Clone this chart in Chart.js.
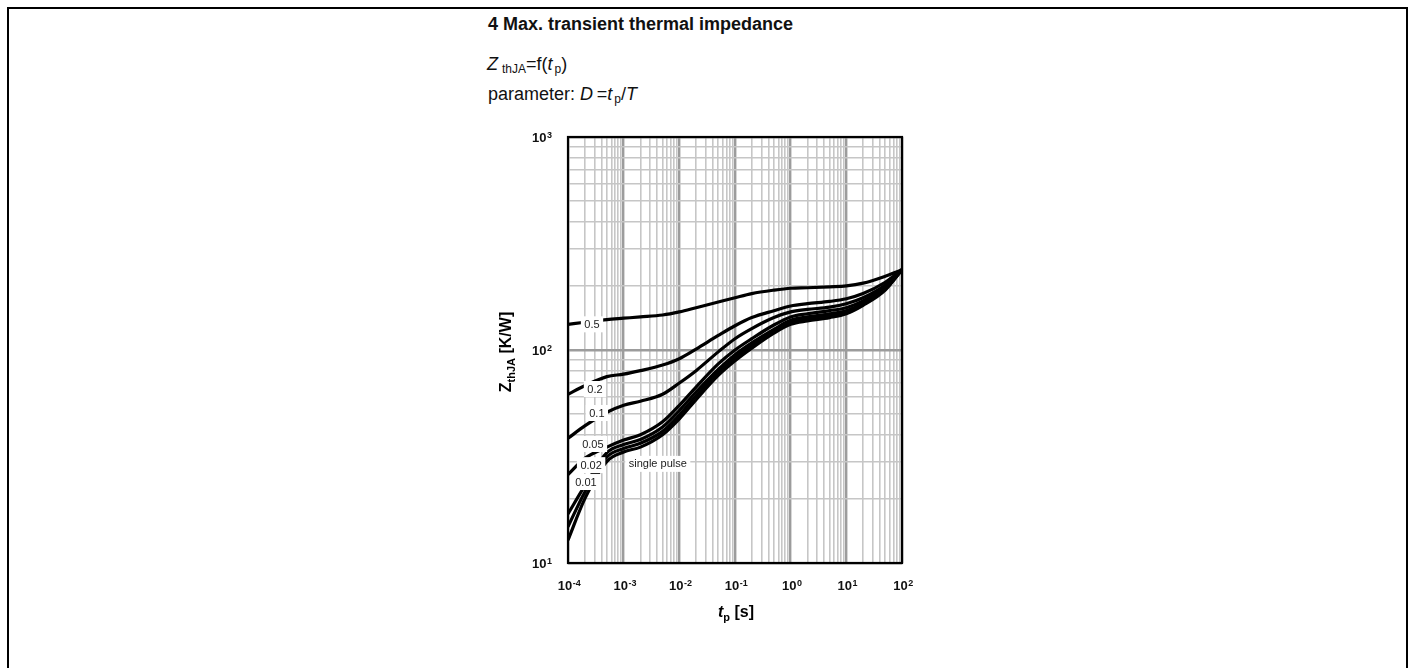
<!DOCTYPE html>
<html>
<head>
<meta charset="utf-8">
<script src="https://cdn.jsdelivr.net/npm/chart.js@4.4.1/dist/chart.umd.min.js"></script>
<style>
    html, body { margin: 0; padding: 0; background: #fff; overflow: hidden; }
    body { width: 1413px; height: 668px; position: relative; font-family: Arial, "Liberation Sans", sans-serif; color: #111; }
    .frame { position: absolute; left: 7px; top: 7px; width: 1397px; height: 720px; border: 2px solid #000; }
    .txt { position: absolute; font-size: 18px; line-height: 18px; white-space: nowrap; }
    .txt sub { font-size: 12px; vertical-align: -3px; line-height: 0; }
    .chart-box { position: absolute; left: 470px; top: 125px; width: 450px; height: 520px; }
</style>
</head>
<body>
<div class="frame"></div>
<div class="txt" style="left:488px; top:15px; font-weight:bold;">4 Max. transient thermal impedance</div>
<div class="txt" style="left:487px; top:55px;"><i>Z</i><sub style="margin-left:4px">thJA</sub>=f(<i>t</i><sub style="margin-left:2px">p</sub>)</div>
<div class="txt" style="left:488px; top:85px;">parameter: <i>D</i>&thinsp;=<i>t</i><sub style="margin-left:2px">p</sub>/<i>T</i></div>
<div class="chart-box"><canvas id="zth" width="450" height="520"></canvas></div>
<script>
// pulse width tp [s]
const TP = [1e-4, 2e-4, 5e-4, 1e-3, 2e-3, 5e-3, 1e-2, 2e-2, 5e-2, 0.1, 0.2, 0.5, 1, 2, 5, 10, 20, 50, 100];

// ZthJA [K/W] for each duty cycle D
const Z_D050 = [132, 135, 139, 141, 143, 146, 151, 158, 168, 176, 184, 191, 195, 196, 198, 200, 206, 222, 238];
const Z_D020 = [62, 68, 75, 77, 80, 85, 91, 101, 117, 130, 142, 153, 161, 165, 169, 174, 184, 208, 238];
const Z_D010 = [38.5, 44, 51, 55, 57.5, 62, 70, 80, 98, 113, 126, 142, 151, 155, 159, 165, 176, 202, 238];
const Z_D005 = [26, 31, 35, 37.8, 40, 46, 55, 67, 86, 100, 113, 131, 143, 148, 153, 158, 170, 198, 238];
const Z_D002 = [17, 23, 33, 36, 38, 43.5, 52, 63.5, 81, 95, 108, 125, 138, 143, 148, 153, 166, 195, 238];
const Z_D001 = [14.8, 21.5, 31.5, 34.5, 36.5, 41.5, 49.5, 61, 78, 92, 105, 122, 135, 140, 145, 150, 164, 193, 238];
const Z_SINGLE = [12.8, 20, 30, 33.2, 35, 40, 47.5, 58.5, 76, 89, 102, 120, 132, 137, 142, 148, 162, 191, 238];

const SERIES = [Z_D050, Z_D020, Z_D010, Z_D005, Z_D002, Z_D001, Z_SINGLE];

// curve labels and where they sit (tp, Z)
const LABEL_TEXT = ["0.5", "0.2", "0.1", "0.05", "0.02", "0.01", "single pulse"];
const LABEL_TP = [2.7e-4, 3.05e-4, 3.3e-4, 2.8e-4, 2.6e-4, 2.1e-4, 4.1e-3];
const LABEL_Z = [132, 65.6, 50.6, 36.2, 28.8, 24.0, 29.2];

// axes: decade ticks, labelled 10^n
const X_DECADES = [1e-4, 1e-3, 1e-2, 1e-1, 1, 10, 100];
const X_TICK_EXP = ["-4", "-3", "-2", "-1", "0", "1", "2"];
const Y_DECADES = [10, 100, 1000];
const Y_TICK_EXP = ["1", "2", "3"];

const FONT = "Arial, 'Liberation Sans', sans-serif";

function isDecade(v) {
    const l = Math.log10(v);
    return Math.abs(l - Math.round(l)) < 1e-6;
}

// 1..9 gridlines inside each decade
function gridValues(decades) {
    const vals = [];
    for (let i = 0; i < decades.length - 1; i++) {
        for (let m = 1; m <= 9; m++) vals.push(m * decades[i]);
    }
    vals.push(decades[decades.length - 1]);
    return vals;
}

const curveLabels = {
    id: "curveLabels",
    afterDatasetsDraw(chart) {
        const { ctx, scales: { x, y }, chartArea: a } = chart;
        ctx.save();
        ctx.font = "11px " + FONT;
        ctx.textAlign = "center";
        ctx.textBaseline = "middle";
        LABEL_TEXT.forEach((txt, i) => {
            const px = x.getPixelForValue(LABEL_TP[i]);
            const py = y.getPixelForValue(LABEL_Z[i]);
            const w = ctx.measureText(txt).width + 7;
            ctx.fillStyle = "#fff";
            ctx.fillRect(px - w / 2, py - 8, w, 16);
            ctx.fillStyle = "#1a1a1a";
            ctx.fillText(txt, px, py + 0.5);
        });
        // black frame round the plot
        ctx.strokeStyle = "#000";
        ctx.lineWidth = 2.2;
        ctx.strokeRect(a.left, a.top, a.right - a.left, a.bottom - a.top);
        ctx.restore();
    },
};

// "10" with a raised exponent at every decade
const tickLabels = {
    id: "tickLabels",
    afterDraw(chart) {
        const { ctx, scales: { x, y }, chartArea: a } = chart;
        const base = "bold 13px " + FONT;
        const sup = "bold 9px " + FONT;
        ctx.save();
        ctx.fillStyle = "#111";
        ctx.textBaseline = "alphabetic";
        ctx.textAlign = "left";
        X_DECADES.forEach((v, i) => {
            ctx.font = base;
            const wb = ctx.measureText("10").width;
            ctx.font = sup;
            const ws = ctx.measureText(X_TICK_EXP[i]).width;
            const left = x.getPixelForValue(v) - (wb + ws) / 2 + 1;
            const by = a.bottom + 27;
            ctx.font = base;
            ctx.fillText("10", left, by);
            ctx.font = sup;
            ctx.fillText(X_TICK_EXP[i], left + wb + 0.5, by - 4.5);
        });
        Y_DECADES.forEach((v, i) => {
            ctx.font = sup;
            const ws = ctx.measureText(Y_TICK_EXP[i]).width;
            ctx.font = base;
            const wb = ctx.measureText("10").width;
            const right = a.left - 16;
            const by = y.getPixelForValue(v) + 5;
            ctx.fillText("10", right - ws - 0.5 - wb, by);
            ctx.font = sup;
            ctx.fillText(Y_TICK_EXP[i], right - ws, by - 4.5);
        });
        ctx.restore();
    },
};

// axis titles with subscripts
const axisTitles = {
    id: "axisTitles",
    afterDraw(chart) {
        const { ctx, chartArea: a } = chart;
        ctx.save();
        ctx.fillStyle = "#000";
        ctx.textBaseline = "alphabetic";
        ctx.textAlign = "left";

        // x title: tp [s]
        const parts = [
            { t: "t", f: "italic bold 16px " + FONT, dy: 0 },
            { t: "p", f: "bold 11px " + FONT, dy: 4 },
            { t: " [s]", f: "bold 16px " + FONT, dy: 0 },
        ];
        let total = 0;
        parts.forEach(p => { ctx.font = p.f; p.w = ctx.measureText(p.t).width; total += p.w; });
        let cx = (a.left + a.right) / 2 + 1 - total / 2;
        const by = a.bottom + 54;
        parts.forEach(p => { ctx.font = p.f; ctx.fillText(p.t, cx, by + p.dy); cx += p.w; });

        // y title: ZthJA [K/W], rotated
        const yparts = [
            { t: "Z", f: "bold 16px " + FONT, dy: 0 },
            { t: "thJA", f: "bold 11px " + FONT, dy: 4 },
            { t: " [K/W]", f: "bold 16px " + FONT, dy: 0 },
        ];
        let ytotal = 0;
        yparts.forEach(p => { ctx.font = p.f; p.w = ctx.measureText(p.t).width; ytotal += p.w; });
        ctx.translate(a.left - 57, (a.top + a.bottom) / 2 + 2);
        ctx.rotate(-Math.PI / 2);
        let yx = -ytotal / 2;
        yparts.forEach(p => { ctx.font = p.f; ctx.fillText(p.t, yx, p.dy); yx += p.w; });
        ctx.restore();
    },
};

const gridColor = c => (c.tick && isDecade(c.tick.value) ? "#9c9c9c" : "#c6c6c6");
const gridWidth = c => (c.tick && isDecade(c.tick.value) ? 2.4 : 1.6);

// keep the plot box where it is: no room for label overhang
function fixBox(size) {
    return s => {
        if (s.isHorizontal()) s.height = size; else s.width = size;
        s.paddingLeft = 0;
        s.paddingRight = 0;
        s.paddingTop = 0;
        s.paddingBottom = 0;
    };
}

new Chart(document.getElementById("zth"), {
    type: "line",
    data: {
        datasets: SERIES.map((vals, k) => ({
            label: LABEL_TEXT[k],
            data: TP.map((t, i) => ({ x: t, y: vals[i] })),
            borderColor: "#000",
            borderWidth: 3.2,
            pointRadius: 0,
            fill: false,
            cubicInterpolationMode: "monotone",
        })),
    },
    options: {
        responsive: false,
        animation: false,
        events: [],
        layout: { padding: { top: 12, right: 18, left: 0, bottom: 0 } },
        plugins: {
            legend: { display: false },
            tooltip: { enabled: false },
        },
        scales: {
            x: {
                type: "logarithmic",
                min: 1e-4,
                max: 100,
                afterBuildTicks: s => { s.ticks = gridValues(X_DECADES).map(v => ({ value: v })); },
                afterFit: fixBox(82),
                ticks: { display: false, autoSkip: false },
                grid: { color: gridColor, lineWidth: gridWidth, drawTicks: false },
                border: { display: false },
            },
            y: {
                type: "logarithmic",
                min: 10,
                max: 1000,
                afterBuildTicks: s => { s.ticks = gridValues(Y_DECADES).map(v => ({ value: v })); },
                afterFit: fixBox(98),
                ticks: { display: false, autoSkip: false },
                grid: { color: gridColor, lineWidth: gridWidth, drawTicks: false },
                border: { display: false },
            },
        },
    },
    plugins: [curveLabels, tickLabels, axisTitles],
});
</script>
</body>
</html>
